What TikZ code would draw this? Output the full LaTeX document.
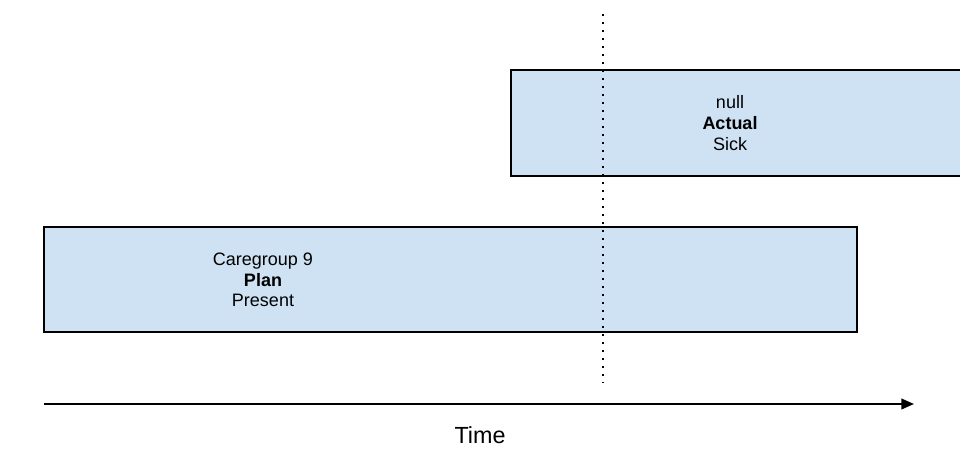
\documentclass[tikz,border=0pt]{standalone}
\usepackage{fontspec}
\setmainfont{Liberation Sans}
\usetikzlibrary{arrows.meta}
\definecolor{barblue}{HTML}{CFE2F3}

\begin{document}
\begin{tikzpicture}[x=0.75pt,y=-0.75pt,
    bar/.style={draw=black,fill=barblue,line width=1.1pt},
    bartext/.style={align=center,font=\fontsize{13.5}{15.6}\selectfont},
    nowline/.style={line width=1.3pt,dash pattern=on 1.3pt off 4.7pt},
    timeaxis/.style={line width=1.4pt,-{Triangle[length=9.5pt,width=8pt]}}]
			\clip (0,0) rectangle (960,470);

			\draw[bar] (511,70) rectangle (975,176);
			\node[bartext] (actual) at (730,123) {null\\\textbf{Actual}\\Sick};

			\draw[bar] (44,227) rectangle (857,332);
			\node[bartext] (plan) at (263,280) {Caregroup 9\\\textbf{Plan}\\Present};

			\coordinate (nowtop) at (603,14);
			\coordinate (nowbottom) at (603,383);
			\draw[nowline] (nowtop) -- (nowbottom);

			\coordinate (tstart) at (44,404);
			\coordinate (tend) at (914,404);
			\draw[timeaxis] (tstart) -- (tend);
			\node[font=\fontsize{17.5}{21}\selectfont] (time) at (480,435) {Time};
		\end{tikzpicture}
\end{document}
